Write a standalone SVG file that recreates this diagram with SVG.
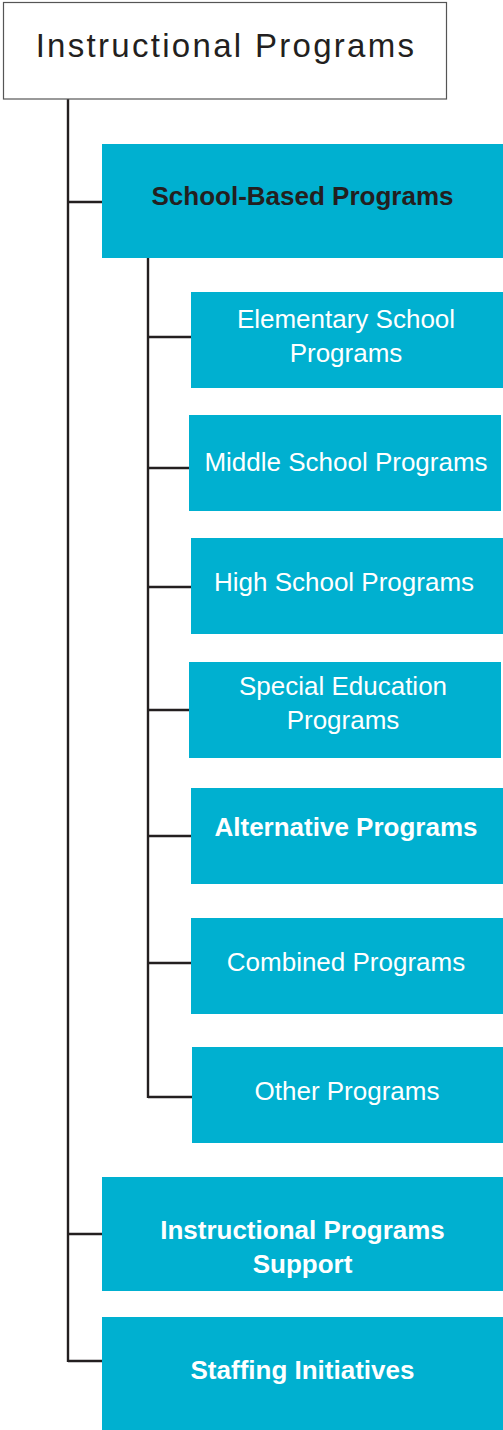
<svg xmlns="http://www.w3.org/2000/svg" width="503" height="1430" viewBox="0 0 503 1430">
<style>
.box{fill:#00b0d0;}
.t{font-family:"Liberation Sans",Arial,sans-serif;font-size:26px;fill:#ffffff;text-anchor:middle;}
.b{font-weight:bold;}
.dark{fill:#231f20;}
.c{stroke:#231f20;stroke-width:2.4;fill:none;}
</style>
<rect width="503" height="1430" fill="#ffffff"/>
<g id="connectors">
<path class="c" d="M68 97V1362"/>
<path class="c" d="M68 202H102M68 1234H102M68 1361H102"/>
<path class="c" d="M148 258V1098"/>
<path class="c" d="M148 337H191M148 468H189M148 587H191M148 710H189M148 836H191M148 963H191M148 1097H192"/>
</g>
<g id="root">
<rect x="3.5" y="2.5" width="443" height="96.5" fill="#ffffff" stroke="#555555" stroke-width="1.2"/>
<text class="t dark" x="226" y="57" style="font-size:33px;letter-spacing:2.3px">Instructional Programs</text>
</g>
<g id="school-based">
<rect class="box" x="102" y="144" width="401" height="114"/>
<text class="t b dark" x="302.5" y="205">School-Based Programs</text>
</g>
<g id="elementary">
<rect class="box" x="191" y="292" width="312" height="96"/>
<text class="t" x="346" y="328">Elementary School</text>
<text class="t" x="346" y="362">Programs</text>
</g>
<g id="middle">
<rect class="box" x="189" y="415" width="312" height="96"/>
<text class="t" x="346" y="471">Middle School Programs</text>
</g>
<g id="high">
<rect class="box" x="191" y="538" width="312" height="96"/>
<text class="t" x="344" y="591">High School Programs</text>
</g>
<g id="special">
<rect class="box" x="189" y="662" width="312" height="96"/>
<text class="t" x="343" y="695">Special Education</text>
<text class="t" x="343" y="729">Programs</text>
</g>
<g id="alternative">
<rect class="box" x="191" y="788" width="312" height="96"/>
<text class="t b" x="346" y="836">Alternative Programs</text>
</g>
<g id="combined">
<rect class="box" x="191" y="918" width="312" height="96"/>
<text class="t" x="346" y="971">Combined Programs</text>
</g>
<g id="other">
<rect class="box" x="192" y="1047" width="311" height="96"/>
<text class="t" x="347" y="1100">Other Programs</text>
</g>
<g id="support">
<rect class="box" x="102" y="1177" width="401" height="114"/>
<text class="t b" x="302.5" y="1239">Instructional Programs</text>
<text class="t b" x="302.5" y="1273">Support</text>
</g>
<g id="staffing">
<rect class="box" x="102" y="1317" width="401" height="113"/>
<text class="t b" x="302.5" y="1379">Staffing Initiatives</text>
</g>
</svg>
